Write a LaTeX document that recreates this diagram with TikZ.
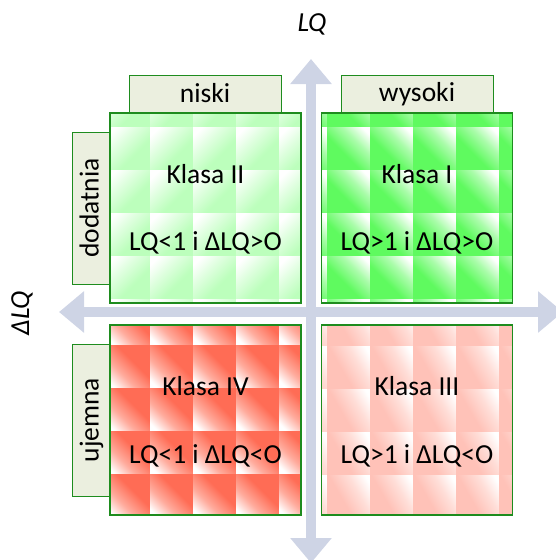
\documentclass[tikz,border=0pt]{standalone}
\usepackage{fontspec}
\setmainfont{Carlito}
\usetikzlibrary{arrows.meta}

\definecolor{axisblue}{RGB}{206,212,229}
\definecolor{tabfill}{RGB}{235,239,223}
\definecolor{edgegreen}{RGB}{30,140,30}
\definecolor{greenhi}{RGB}{95,250,95}
\definecolor{greenmid}{RGB}{170,252,170}
\definecolor{greenlo}{RGB}{188,255,188}
\definecolor{greenlomid}{RGB}{222,255,222}
\definecolor{redhi}{RGB}{255,108,85}
\definecolor{redmid}{RGB}{255,172,158}
\definecolor{redlo}{RGB}{255,194,184}
\definecolor{redlomid}{RGB}{255,222,216}

% cell gradients, white end at 100bp (top) or 0bp (bottom)
\pgfdeclareverticalshading{cellI}{100bp}{color(0bp)=(greenhi);
  color(42bp)=(greenhi); color(62bp)=(greenmid); color(79bp)=(white);
  color(100bp)=(white)}
\pgfdeclareverticalshading{cellII}{100bp}{color(0bp)=(greenlo);
  color(40bp)=(greenlo); color(60bp)=(greenlomid); color(78bp)=(white);
  color(100bp)=(white)}
\pgfdeclareverticalshading{cellIII}{100bp}{color(0bp)=(redlo);
  color(42bp)=(redlo); color(62bp)=(redlomid); color(79bp)=(white);
  color(100bp)=(white)}
\pgfdeclareverticalshading{cellIV}{100bp}{color(0bp)=(white);
  color(21bp)=(white); color(38bp)=(redmid); color(58bp)=(redhi);
  color(100bp)=(redhi)}

% tiled fill of one quadrant: x0,y0,x1,y1, grid start gx,gy, tile style
\newcommand{\tilefill}[7]{%
  \begin{scope}
    \clip (#1,#2) rectangle (#3,#4);
    \foreach \i in {-1,...,4}
      \foreach \j in {-1,...,4}
        \shade[#7] ({#5+43*\i},{#6+43*\j}) rectangle +(43,43);
  \end{scope}}

\begin{document}
\begin{tikzpicture}[x=1pt,y=-1pt,font=\fontsize{27.5}{32}\selectfont,
  quad/.style={draw=edgegreen,line width=1.2pt,minimum width=191pt,
    minimum height=190pt,inner sep=0pt},
  tab/.style={draw=edgegreen,line width=1pt,fill=tabfill,inner sep=0pt,
    minimum width=152pt,minimum height=38pt,text height=20pt,text depth=5pt},
  axis/.style={axisblue,line width=10pt,
    {Triangle[width=40pt,length=25pt]}-{Triangle[width=40pt,length=25pt]}},
  tileI/.style={shading=cellI,shading angle=-45},
  tileII/.style={shading=cellII,shading angle=45},
  tileIII/.style={shading=cellIII,shading angle=-60},
  tileIV/.style={shading=cellIV,shading angle=-45}]

  \useasboundingbox (0,0) rectangle (555,560);

  % axes
  \coordinate (top) at (311,59);
  \coordinate (bottom) at (311,563);
  \coordinate (left) at (59,312);
  \coordinate (right) at (563,312);
  \draw[axis] (bottom) -- (top);
  \draw[axis] (left) -- (right);
  \node (lq) at (312,24) {\textit{LQ}};
  \node[rotate=90] (dlq) at (22,313) {\textit{ΔLQ}};

  % tabs
  \node[tab] (niski) at (205,94.5) {niski};
  \node[tab] (wysoki) at (417,94) {wysoki};
  \node[tab,rotate=90] (dodatnia) at (91,208) {dodatnia};
  \node[tab,rotate=90] (ujemna) at (91,420) {ujemna};

  % quadrants
  \tilefill{110}{113}{301}{303}{150}{127}{tileII}
  \tilefill{321.5}{113}{512.5}{303}{327}{127}{tileI}
  \tilefill{110}{325}{301}{515}{150}{345}{tileIV}
  \tilefill{321.5}{325}{512.5}{515}{327}{346}{tileIII}
  \node[quad] (k2) at (205.5,208) {};
  \node[quad] (k1) at (417,208) {};
  \node[quad] (k4) at (205.5,420) {};
  \node[quad] (k3) at (417,420) {};

  % labels
  \node[anchor=base] (k2a) at (205.5,183) {Klasa II};
  \node[anchor=base] (k2b) at (205.5,250.5) {LQ<1 i ΔLQ>O};
  \node[anchor=base] (k1a) at (417,183) {Klasa I};
  \node[anchor=base] (k1b) at (417,250.5) {LQ>1 i ΔLQ>O};
  \node[anchor=base] (k4a) at (205.5,395) {Klasa IV};
  \node[anchor=base] (k4b) at (205.5,463.5) {LQ<1 i ΔLQ<O};
  \node[anchor=base] (k3a) at (417,395) {Klasa III};
  \node[anchor=base] (k3b) at (417,463.5) {LQ>1 i ΔLQ<O};
\end{tikzpicture}
\end{document}
